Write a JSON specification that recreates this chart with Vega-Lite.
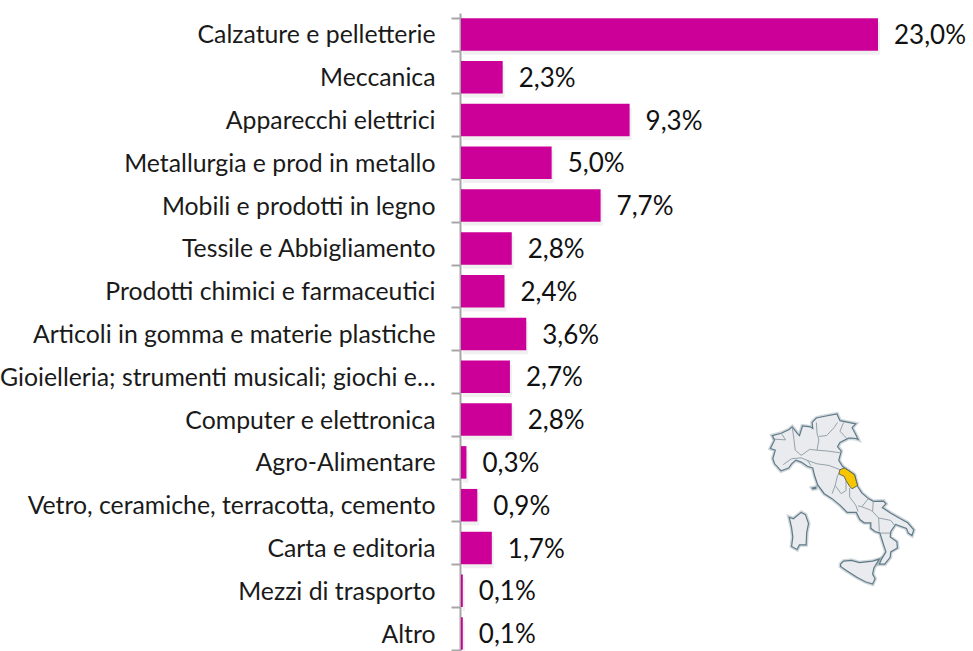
{"$schema":"https://vega.github.io/schema/vega-lite/v6.json","autosize":{"type":"none"},"padding":{"left":461,"top":13,"right":0,"bottom":0},"width":512,"height":638,"background":"white","config":{"view":{"stroke":null},"font":"Lato"},"projection":{"type":"mercator","scale":693,"translate":[229,1048]},"datasets":{"bars":[{"settore":"Calzature e pelletterie","quota":23.0,"etichetta":"23,0%"},{"settore":"Meccanica","quota":2.3,"etichetta":"2,3%"},{"settore":"Apparecchi elettrici","quota":9.3,"etichetta":"9,3%"},{"settore":"Metallurgia e prod in metallo","quota":5.0,"etichetta":"5,0%"},{"settore":"Mobili e prodotti in legno","quota":7.7,"etichetta":"7,7%"},{"settore":"Tessile e Abbigliamento","quota":2.8,"etichetta":"2,8%"},{"settore":"Prodotti chimici e farmaceutici","quota":2.4,"etichetta":"2,4%"},{"settore":"Articoli in gomma e materie plastiche","quota":3.6,"etichetta":"3,6%"},{"settore":"Gioielleria; strumenti musicali; giochi e…","quota":2.7,"etichetta":"2,7%"},{"settore":"Computer e elettronica","quota":2.8,"etichetta":"2,8%"},{"settore":"Agro-Alimentare","quota":0.3,"etichetta":"0,3%"},{"settore":"Vetro, ceramiche, terracotta, cemento","quota":0.9,"etichetta":"0,9%"},{"settore":"Carta e editoria","quota":1.7,"etichetta":"1,7%"},{"settore":"Mezzi di trasporto","quota":0.1,"etichetta":"0,1%"},{"settore":"Altro","quota":0.1,"etichetta":"0,1%"}],"italia":[{"type":"Feature","properties":{"nome":"Penisola"},"geometry":{"type":"Polygon","coordinates":[[[7.53,43.78],[7.0,44.2],[6.85,44.5],[7.05,45.0],[6.65,45.1],[7.0,45.6],[6.8,45.85],[7.55,45.98],[8.2,46.2],[8.45,46.35],[8.9,45.95],[9.05,45.85],[9.3,46.4],[9.95,46.35],[10.15,46.25],[10.1,46.6],[10.45,46.85],[11.15,46.95],[12.15,47.08],[12.4,46.7],[13.7,46.52],[13.4,46.3],[13.65,45.98],[13.9,45.63],[13.7,45.68],[13.4,45.7],[13.1,45.7],[12.4,45.45],[12.2,45.2],[12.5,44.95],[12.3,44.4],[12.6,44.05],[13.0,43.85],[13.6,43.55],[13.85,42.85],[14.2,42.45],[14.75,42.1],[15.15,41.93],[16.0,41.95],[16.2,41.78],[15.9,41.55],[16.6,41.2],[17.4,40.85],[18.0,40.6],[18.5,40.15],[18.35,39.8],[18.05,39.95],[17.9,40.25],[17.0,40.5],[16.6,40.05],[16.55,39.7],[17.1,39.4],[17.15,39.0],[16.6,38.75],[16.55,38.4],[16.1,37.95],[15.65,37.95],[15.85,38.3],[16.2,38.75],[16.05,39.1],[15.7,39.95],[15.3,40.05],[14.95,40.25],[14.95,40.6],[14.4,40.6],[14.05,40.8],[13.75,41.25],[13.0,41.25],[12.4,41.7],[11.75,42.1],[11.1,42.4],[10.55,42.95],[10.3,43.5],[10.15,43.95],[9.7,44.05],[9.2,44.3],[8.75,44.42],[8.4,44.2],[8.15,43.95],[7.53,43.78]]]}},{"type":"Feature","properties":{"nome":"Sardegna"},"geometry":{"type":"Polygon","coordinates":[[[8.2,40.95],[8.55,40.85],[9.2,41.25],[9.55,41.1],[9.8,40.55],[9.65,40.0],[9.6,39.2],[9.05,39.2],[8.85,38.9],[8.4,39.1],[8.5,39.7],[8.4,40.3],[8.2,40.95]]]}},{"type":"Feature","properties":{"nome":"Sicilia"},"geometry":{"type":"Polygon","coordinates":[[[12.45,37.95],[12.7,38.15],[13.35,38.2],[14.0,38.05],[15.1,38.15],[15.65,38.28],[15.2,37.7],[15.1,37.3],[15.3,37.0],[15.1,36.65],[14.5,36.8],[13.8,37.1],[12.9,37.55],[12.45,37.8],[12.45,37.95]]]}},{"type":"Feature","properties":{"nome":"Elba"},"geometry":{"type":"Polygon","coordinates":[[[10.1,42.75],[10.4,42.8],[10.4,42.72],[10.15,42.7],[10.1,42.75]]]}}],"confini":[{"type":"Feature","properties":{},"geometry":{"type":"MultiLineString","coordinates":[[[6.8,45.65],[7.9,45.6],[7.55,45.98]],[[8.45,46.35],[8.6,45.6],[8.7,45.0],[9.2,44.7]],[[7.7,44.15],[8.4,44.5],[9.2,44.55],[9.7,44.4],[10.0,44.1]],[[9.7,44.4],[10.5,44.2],[11.5,44.1],[12.4,43.85]],[[9.2,44.7],[9.9,45.05],[10.5,45.0],[11.4,44.95],[12.4,44.85]],[[10.5,45.0],[10.65,45.6],[10.5,46.0],[10.45,46.6]],[[10.65,45.8],[11.3,45.85],[11.9,46.3],[12.2,46.6]],[[12.7,46.6],[12.4,46.1],[13.0,45.65]],[[11.75,42.4],[12.0,42.9],[12.2,43.5],[12.3,43.6]],[[12.9,43.2],[12.9,42.6],[12.5,42.4],[12.0,42.9]],[[13.2,42.75],[13.2,42.2],[13.7,41.7],[13.9,41.3]],[[14.75,42.1],[14.2,41.6],[13.9,41.65]],[[15.15,41.93],[15.1,41.3],[15.6,40.9],[16.6,40.75],[16.9,40.45]],[[15.6,40.9],[15.65,40.05]],[[15.7,39.95],[16.55,39.95]],[[14.2,41.6],[14.9,41.4],[15.1,41.3]]]}}],"marche":[{"type":"Feature","properties":{"nome":"Marche"},"geometry":{"type":"Polygon","coordinates":[[[12.75,43.95],[13.0,43.85],[13.6,43.55],[13.85,42.9],[13.4,42.7],[13.2,42.85],[12.9,43.2],[12.75,43.45],[12.3,43.6],[12.4,43.85],[12.75,43.95]]]}}]},"layer":[{"data":{"name":"bars"},"mark":{"type":"bar","color":"#808080","opacity":0.12,"xOffset":2,"yOffset":4},"encoding":{"y":{"field":"settore","type":"nominal","sort":null,"scale":{"range":[0,642],"paddingInner":0.24,"paddingOuter":0.12},"axis":{"title":null,"offset":1,"domainColor":"#a6a6a6","domainWidth":2,"tickColor":"#a6a6a6","tickWidth":2,"tickSize":9,"tickBand":"extent","labelFont":"Lato","labelFontSize":24.8,"labelColor":"#1a1a1a","labelPadding":16,"labelLimit":460,"labelOffset":1.5}},"x":{"field":"quota","type":"quantitative","scale":{"domain":[0,28.24],"nice":false},"axis":null}}},{"data":{"name":"bars"},"mark":{"type":"bar","color":"#CC0099"},"encoding":{"y":{"field":"settore","type":"nominal","sort":null},"x":{"field":"quota","type":"quantitative"}}},{"data":{"name":"bars"},"mark":{"type":"text","align":"left","baseline":"middle","dx":16,"dy":1.5,"fontSize":26,"font":"Lato","color":"#111111"},"encoding":{"y":{"field":"settore","type":"nominal","sort":null},"x":{"field":"quota","type":"quantitative"},"text":{"field":"etichetta"}}},{"data":{"name":"italia"},"mark":{"type":"geoshape","fill":"none","stroke":"#44606e","strokeWidth":4,"strokeOpacity":0.25}},{"data":{"name":"italia"},"mark":{"type":"geoshape","fill":"#e9ebee","stroke":"#5f7a88","strokeWidth":1.2}},{"data":{"name":"confini"},"mark":{"type":"geoshape","filled":false,"stroke":"#8b9aa3","strokeWidth":0.9}},{"data":{"name":"marche"},"mark":{"type":"geoshape","fill":"#f7c600","stroke":"#5f6a50","strokeWidth":1}}]}
